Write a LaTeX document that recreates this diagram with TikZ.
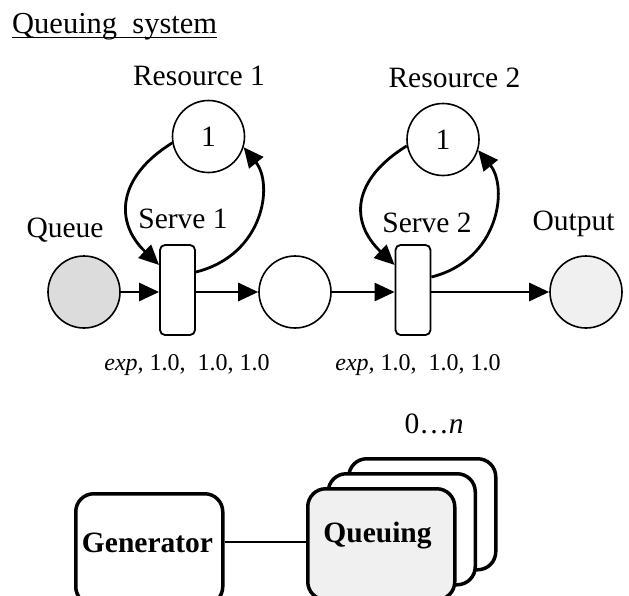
\documentclass[tikz,border=0pt]{standalone}
\usepackage{fontspec}
\setmainfont{Liberation Serif}
\usetikzlibrary{arrows.meta}
\definecolor{qgray}{HTML}{DCDCDC}
\definecolor{ogray}{HTML}{F0F0F0}
\begin{document}
\begin{tikzpicture}[x=1pt,y=1pt,
  lbl/.style={inner sep=0, anchor=base, font=\fontsize{29.5}{30}\selectfont},
  small/.style={inner sep=0, anchor=base, font=\fontsize{24}{26}\selectfont},
  place/.style={circle, draw, line width=1.6pt, minimum size=72pt, inner sep=0, font=\fontsize{29.5}{30}\selectfont},
  trans/.style={draw, rounded corners=5pt, line width=1.8pt, minimum width=35pt, minimum height=90pt, inner sep=0, fill=white},
  arr/.style={line width=2.8pt, -{Triangle[length=20pt,width=18pt]}},
  bigbox/.style={draw, line width=3.5pt, rounded corners=18pt, minimum width=147pt, minimum height=111pt, inner sep=0, anchor=north west},
]
\useasboundingbox (0,0) rectangle (629,-595);

% title
\node[lbl, anchor=base west, font=\fontsize{30.5}{31}\selectfont] (title) at (12,-33) {Queuing\ \ system};
\draw[line width=1.5pt] ([yshift=-4.5pt]title.base west) -- ([yshift=-4.5pt]title.base east);

% places and transitions
\node[place, fill=qgray] (Q) at (84,-292) {};
\node[place] (M) at (295,-292) {};
\node[place, fill=ogray] (O) at (586,-292) {};
\node[place] (R1) at (208.5,-136.5) {1};
\node[place] (R2) at (443,-139.5) {1};
\node[trans] (S1) at (177.5,-290) {};
\node[trans] (S2) at (413,-290) {};

% labels
\node[lbl] (lQ) at (65,-237) {Queue};
\node[lbl] (lR1) at (199,-85) {Resource 1};
\node[lbl] (lR2) at (454.5,-87) {Resource 2};
\node[lbl] (lS1) at (183,-228) {Serve 1};
\node[lbl] (lS2) at (427,-232) {Serve 2};
\node[lbl] (lO) at (573.5,-230) {Output};
\node[small] (e1) at (187,-370) {\textit{exp,} 1.0,\ \ 1.0, 1.0};
\node[small] (e2) at (418,-370) {\textit{exp,} 1.0,\ \ 1.0, 1.0};

% straight arrows
\draw[arr] (Q) -- (Q -| S1.west);
\draw[arr] (M -| S1.east) -- (M);
\draw[arr] (M) -- (M -| S2.west);
\draw[arr] (O -| S2.east) -- (O);

% resource loops
\draw[arr] (R1.190) .. controls +(-55,-34) and +(-45,43) .. ([yshift=25pt]S1.west);
\draw[arr] ([yshift=18pt]S1.east) .. controls +(68,17) and +(30,-37) .. (R1.-17);
\draw[arr] (R2.190) .. controls +(-55,-34) and +(-45,43) .. ([yshift=25pt]S2.west);
\draw[arr] ([yshift=13pt]S2.east) .. controls +(68,17) and +(30,-37) .. (R2.-17);

% bottom: generator and queuing stack
\node[bigbox] (gen) at (74,-492) {};
\node[bigbox, fill=white] (qb) at (347,-457) {};
\node[bigbox, fill=white] (qm) at (326.5,-472) {};
\node[bigbox, fill=ogray] (qf) at (306,-487) {};
\node[lbl, font=\fontsize{29.5}{30}\selectfont\bfseries] (gtext) at (147.5,-552) {Generator};
\node[lbl, font=\fontsize{29.5}{30}\selectfont\bfseries] (qtext) at (377.5,-542) {Queuing};
\node[lbl] (n) at (434,-433) {0…\textit{n}};
\draw[line width=2pt] (gtext -| gen.east) -- (gtext -| qf.west);
\end{tikzpicture}
\end{document}
